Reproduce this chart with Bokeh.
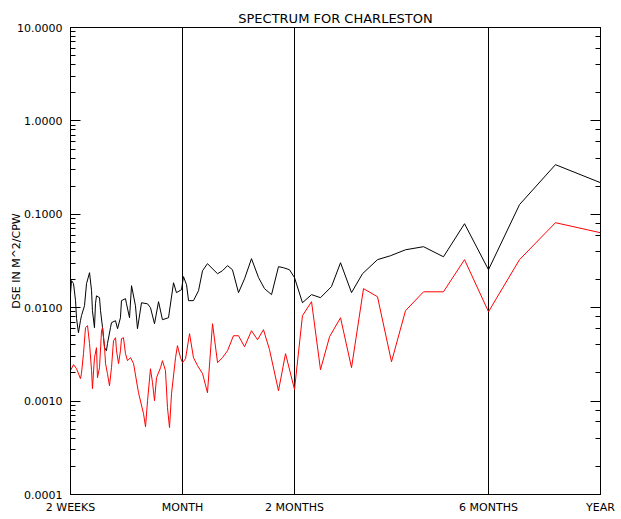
from bokeh.plotting import figure
from bokeh.models import Range1d, LogAxis, FixedTicker, NumeralTickFormatter, CustomJSTickFormatter
from bokeh.embed import file_html
from bokeh.resources import INLINE

# x axis: period positions (label slots)
tick_pos = [0.0, 1.0, 2.0, 3.732, 4.732]
tick_labels = ["2 WEEKS", "MONTH", "2 MONTHS", "6 MONTHS", "YEAR"]

black_x = [0.000, 0.009, 0.027, 0.045, 0.054, 0.071, 0.089, 0.098, 0.125, 0.143,
           0.170, 0.188, 0.196, 0.214, 0.223, 0.232, 0.259, 0.268, 0.286, 0.304,
           0.321, 0.330, 0.357, 0.366, 0.402, 0.420, 0.446, 0.455, 0.491, 0.500,
           0.527, 0.545, 0.580, 0.598, 0.634, 0.688, 0.714, 0.750, 0.786, 0.821,
           0.875, 0.920, 0.946, 0.991, 1.009, 1.036, 1.054, 1.098, 1.143, 1.179,
           1.223, 1.313, 1.357, 1.402, 1.446, 1.500, 1.554, 1.616, 1.679, 1.732,
           1.795, 1.857, 1.902, 1.955, 2.000, 2.071, 2.152, 2.232, 2.330, 2.411,
           2.509, 2.607, 2.741, 2.857, 2.991, 3.152, 3.330, 3.518, 3.732, 4.009,
           4.330, 4.732]
black_y = [0.0141, 0.0195, 0.0181, 0.0119, 0.00763, 0.00540, 0.00726, 0.00821, 0.0105, 0.0181,
           0.0237, 0.0152, 0.00929, 0.00611, 0.0110, 0.0134, 0.0128, 0.00929, 0.00611, 0.00373,
           0.00346, 0.00412, 0.00611, 0.00691, 0.00726, 0.00596, 0.00781, 0.0119, 0.0125, 0.0110,
           0.00781, 0.0172, 0.0105, 0.00596, 0.0113, 0.0110, 0.0100, 0.00674, 0.0116, 0.00744,
           0.00781, 0.0185, 0.0145, 0.0156, 0.0215, 0.0176, 0.0119, 0.0119, 0.0152, 0.0249,
           0.0296, 0.0231, 0.0249, 0.0282, 0.0255, 0.0145, 0.0204, 0.0335, 0.0210, 0.0160,
           0.0138, 0.0275, 0.0268, 0.0255, 0.0210, 0.0113, 0.0138, 0.0128, 0.0168, 0.0303,
           0.0145, 0.0231, 0.0327, 0.0360, 0.0417, 0.0450, 0.0351, 0.0793, 0.0255, 0.127,
           0.340, 0.218]

red_x = [0.000, 0.027, 0.054, 0.089, 0.098, 0.116, 0.134, 0.152, 0.170, 0.188,
         0.196, 0.214, 0.232, 0.241, 0.259, 0.277, 0.286, 0.304, 0.313, 0.330,
         0.348, 0.366, 0.384, 0.402, 0.411, 0.429, 0.446, 0.455, 0.473, 0.491,
         0.509, 0.536, 0.563, 0.607, 0.652, 0.670, 0.688, 0.714, 0.732, 0.750,
         0.768, 0.804, 0.821, 0.848, 0.866, 0.884, 0.902, 0.938, 0.955, 0.982,
         1.000, 1.027, 1.063, 1.098, 1.134, 1.179, 1.223, 1.268, 1.313, 1.357,
         1.402, 1.455, 1.500, 1.554, 1.616, 1.670, 1.723, 1.777, 1.857, 1.920,
         2.000, 2.071, 2.152, 2.232, 2.313, 2.411, 2.509, 2.616, 2.741, 2.866,
         2.991, 3.152, 3.330, 3.518, 3.732, 4.009, 4.330, 4.732]
red_y = [0.00212, 0.00246, 0.00222, 0.00174, 0.00197, 0.00322, 0.00611, 0.00642, 0.00412, 0.00212,
         0.00136, 0.00292, 0.00373, 0.00178, 0.00228, 0.00567, 0.00611, 0.00373, 0.00252, 0.00197,
         0.00146, 0.00228, 0.00443, 0.00477, 0.00346, 0.00252, 0.00346, 0.00466, 0.00477, 0.00322,
         0.00271, 0.00292, 0.00252, 0.00123, 0.000733, 0.000532, 0.00101, 0.00222, 0.00158, 0.00101,
         0.00178, 0.00228, 0.00271, 0.00212, 0.00085, 0.00052, 0.00120, 0.00292, 0.00392, 0.00292,
         0.00258, 0.00284, 0.00527, 0.00292, 0.00240, 0.00197, 0.00123, 0.00674, 0.00258, 0.00292,
         0.00346, 0.00501, 0.00501, 0.00382, 0.00567, 0.00454, 0.00582, 0.00355, 0.00129, 0.00322,
         0.00133, 0.00821, 0.0116, 0.00217, 0.00489, 0.00781, 0.00228, 0.0160, 0.0131, 0.00264,
         0.00929, 0.0148, 0.0148, 0.0327, 0.00906, 0.0327, 0.0813, 0.0635]

FONT = "DejaVu Sans"

p = figure(width=621, height=519, y_axis_type="log",
           x_range=Range1d(tick_pos[0], tick_pos[-1]),
           y_range=Range1d(0.0001, 10.0),
           output_backend="svg", toolbar_location=None,
           min_border_left=70, min_border_right=21,
           min_border_top=27, min_border_bottom=25)

p.background_fill_color = "white"
p.border_fill_color = "white"
p.outline_line_color = "black"
p.outline_line_alpha = 1.0

p.title.text = "SPECTRUM FOR CHARLESTON"
p.title.align = "center"
p.title.text_font = FONT
p.title.text_font_style = "normal"
p.title.text_font_size = "13px"
p.title.text_color = "black"
p.title.standoff = 4

# bottom axis
xa = p.xaxis[0]
xa.ticker = FixedTicker(ticks=tick_pos)
xa.formatter = CustomJSTickFormatter(args=dict(pos=tick_pos, labs=tick_labels), code="""
const i = pos.findIndex(v => Math.abs(v - tick) < 1e-6);
return i >= 0 ? labs[i] : '';
""")
xa.major_tick_in = 0
xa.major_tick_out = 0
xa.minor_tick_in = 0
xa.minor_tick_out = 0
xa.axis_line_color = "black"
xa.major_label_text_font = FONT
xa.major_label_text_font_size = "11px"
xa.major_label_text_color = "black"
xa.major_label_standoff = 6

# left axis
ya = p.yaxis[0]
ya.formatter = NumeralTickFormatter(format="0.0000")
ya.major_tick_in = 10
ya.major_tick_out = 0
ya.minor_tick_in = 5
ya.minor_tick_out = 0
ya.axis_line_color = "black"
ya.major_tick_line_color = "black"
ya.minor_tick_line_color = "black"
ya.major_label_text_font = FONT
ya.major_label_text_font_size = "11px"
ya.major_label_text_color = "black"
ya.major_label_standoff = 8
ya.axis_label = "DSE IN M^2/CPW"
ya.axis_label_text_font = FONT
ya.axis_label_text_font_size = "11px"
ya.axis_label_text_font_style = "normal"
ya.axis_label_text_color = "black"
ya.axis_label_standoff = -9

# right mirrored axis (ticks only)
ra = LogAxis(formatter=CustomJSTickFormatter(code="return '';"))
ra.major_tick_in = 10
ra.major_tick_out = 0
ra.minor_tick_in = 5
ra.minor_tick_out = 0
ra.major_label_standoff = 0
ra.axis_line_color = "black"
ra.major_tick_line_color = "black"
ra.minor_tick_line_color = "black"
p.add_layout(ra, "right")

# full-height tick lines at interior period labels
p.xgrid.ticker = FixedTicker(ticks=tick_pos[1:4])
p.xgrid.grid_line_color = "black"
p.xgrid.grid_line_alpha = 1.0
p.xgrid.grid_line_width = 1
p.ygrid.grid_line_color = None

p.line(black_x, black_y, line_color="black", line_width=1)
p.line(red_x, red_y, line_color="#ff0000", line_width=1)

open("out.html", "w").write(file_html(p, INLINE))
